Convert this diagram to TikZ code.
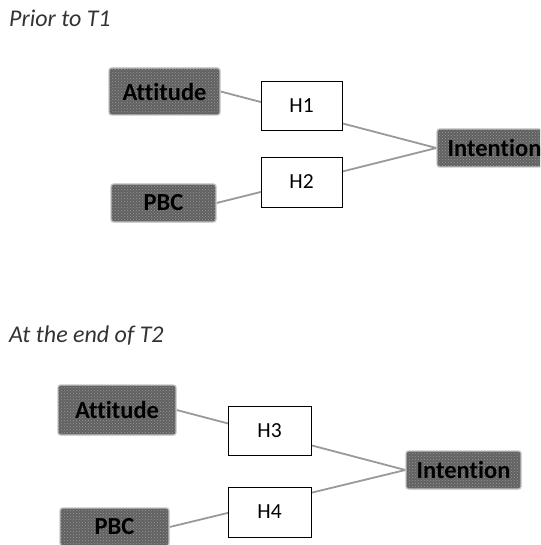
\documentclass[tikz,border=0pt]{standalone}
\usepackage{fontspec}
\setmainfont[Ligatures=NoCommon]{Carlito}
\usetikzlibrary{patterns,backgrounds}
\tikzset{
  construct/.style={rounded corners=2.5pt, fill=black!62, draw=black!22, line width=1.3pt,
    postaction={pattern=crosshatch dots, pattern color=black!40},
    font=\fontsize{24.5}{28}\selectfont\bfseries, text=black, inner sep=0pt},
  hyp/.style={draw=black, line width=0.9pt, fill=white,
    font=\fontsize{21.5}{24}\selectfont, inner sep=0pt},
  link/.style={draw=black!40, line width=1.8pt},
  heading/.style={anchor=base west, font=\fontsize{24}{28}\selectfont\itshape, text=black!80, inner sep=0pt}
}
\begin{document}
\begin{tikzpicture}[x=1pt,y=-1pt]
  \useasboundingbox (0,0) rectangle (540,545);
  \clip (0,0) rectangle (540,545);

  % Situation before T1
  \node[heading] (t1) at (9,27) {Prior to T1};
  \node[construct, minimum width=111pt, minimum height=47pt] (att1) at (164.5,91.5) {Attitude};
  \node[construct, minimum width=105pt, minimum height=38pt] (pbc1) at (163.5,203) {PBC};
  \node[construct, minimum width=115pt, minimum height=38pt] (int1) at (494.5,148) {Intention};
  \begin{scope}[on background layer]
    \draw[link] (att1.east) -- (int1.west);
    \draw[link] (pbc1.east) -- (int1.west);
  \end{scope}
  \node[hyp, minimum width=81pt, minimum height=49pt] (h1) at (301.5,105.5) {H1};
  \node[hyp, minimum width=81pt, minimum height=50pt] (h2) at (301.5,182) {H2};

  % Situation at the end of T2
  \node[heading] (t2) at (9,342) {At the end of T2};
  \node[construct, minimum width=118pt, minimum height=50pt] (att2) at (117,410) {Attitude};
  \node[construct, minimum width=109pt, minimum height=38pt] (pbc2) at (114.5,527) {PBC};
  \node[construct, minimum width=115pt, minimum height=38pt] (int2) at (463.5,470) {Intention};
  \begin{scope}[on background layer]
    \draw[link] (att2.east) -- (int2.west);
    \draw[link] (pbc2.east) -- (int2.west);
  \end{scope}
  \node[hyp, minimum width=83pt, minimum height=49pt] (h3) at (269.5,430.5) {H3};
  \node[hyp, minimum width=83pt, minimum height=50pt] (h4) at (269.5,512) {H4};
\end{tikzpicture}
\end{document}
